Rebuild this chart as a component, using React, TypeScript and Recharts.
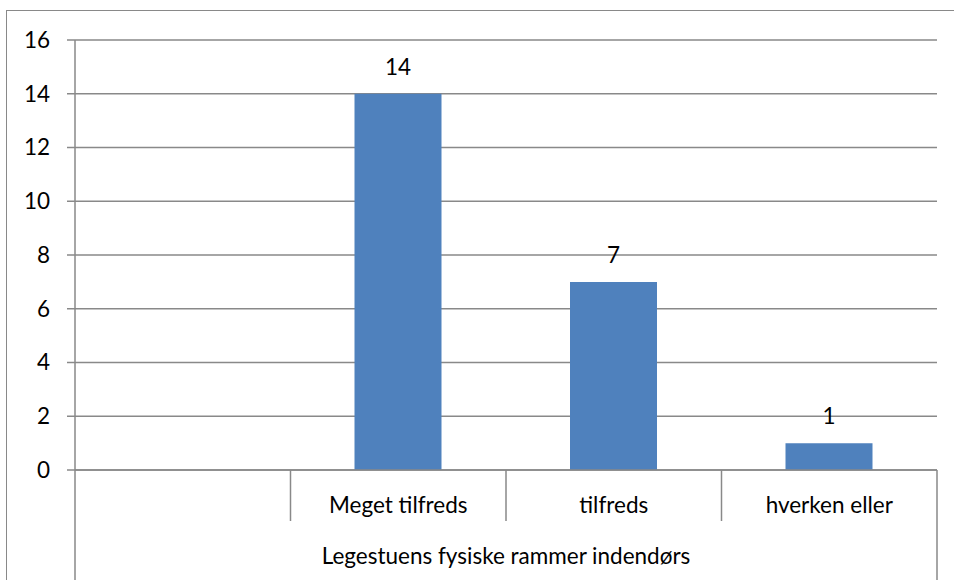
import { BarChart, Bar, XAxis, YAxis, CartesianGrid, LabelList } from 'recharts'

const categories = ['', 'Meget tilfreds', 'tilfreds', 'hverken eller']
const counts: Array<number | null> = [null, 14, 7, 1]
const yTicks = [0, 2, 4, 6, 8, 10, 12, 14, 16]
const groupLabel = 'Legestuens fysiske rammer indendørs'

const data = categories.map((name, i) => ({ name, count: counts[i] }))

const W = 954
const H = 580
const PLOT_LEFT = 75
const PLOT_RIGHT = 937
const PLOT_TOP = 40
const PLOT_BOTTOM = 470
const AXIS_GRAY = '#898989'
const FONT = 'Lato, "Open Sans", sans-serif'
const FONT_SIZE = 22.5

const slot = (PLOT_RIGHT - PLOT_LEFT) / categories.length

function CategoryTick(props: any) {
  const { x, payload, index } = props
  const left = x - slot / 2
  const right = x + slot / 2
  const last = index === categories.length - 1
  return (
    <g>
      <line
        x1={left}
        x2={left}
        y1={PLOT_BOTTOM}
        y2={index === 0 ? H : 521}
        stroke={AXIS_GRAY}
        strokeWidth={1.5}
      />
      {last && (
        <line x1={right} x2={right} y1={PLOT_BOTTOM} y2={H} stroke={AXIS_GRAY} strokeWidth={1.5} />
      )}
      <text x={x} y={513} textAnchor="middle" fontSize={FONT_SIZE} fontFamily={FONT} fill="#000">
        {payload.value}
      </text>
      {index === 0 && (
        <text
          x={(PLOT_LEFT + PLOT_RIGHT) / 2}
          y={564}
          textAnchor="middle"
          fontSize={FONT_SIZE}
          fontFamily={FONT}
          fill="#000"
        >
          {groupLabel}
        </text>
      )}
    </g>
  )
}

export default function App() {
  return (
    <div
      style={{
        position: 'absolute',
        left: 0,
        top: 0,
        width: W,
        height: H,
        overflow: 'hidden',
        background: '#fff',
      }}
    >
      <div
        style={{
          position: 'absolute',
          left: 6,
          top: 10,
          width: W,
          height: H,
          border: `1.5px solid ${AXIS_GRAY}`,
        }}
      />
      <BarChart
        width={W}
        height={H}
        data={data}
        margin={{ top: PLOT_TOP, right: W - PLOT_RIGHT, left: 8, bottom: 0 }}
        barSize={87}
        style={{ position: 'absolute', left: 0, top: 0 }}
      >
        <CartesianGrid vertical={false} stroke={AXIS_GRAY} strokeWidth={1.5} />
        <YAxis
          width={PLOT_LEFT - 8}
          domain={[0, 16]}
          ticks={yTicks}
          interval={0}
          tickSize={8}
          tickMargin={17}
          axisLine={{ stroke: AXIS_GRAY, strokeWidth: 1.5 }}
          tickLine={{ stroke: AXIS_GRAY, strokeWidth: 1.5 }}
          tick={{ fontSize: FONT_SIZE, fontFamily: FONT, fill: '#000' }}
        />
        <XAxis
          dataKey="name"
          height={H - PLOT_BOTTOM}
          interval={0}
          tickLine={false}
          axisLine={{ stroke: AXIS_GRAY, strokeWidth: 1.5 }}
          tick={<CategoryTick />}
        />
        <Bar dataKey="count" fill="#4f81bd" isAnimationActive={false}>
          <LabelList
            dataKey="count"
            position="top"
            offset={19}
            fontSize={FONT_SIZE}
            fontFamily={FONT}
            fill="#000"
          />
        </Bar>
      </BarChart>
    </div>
  )
}
